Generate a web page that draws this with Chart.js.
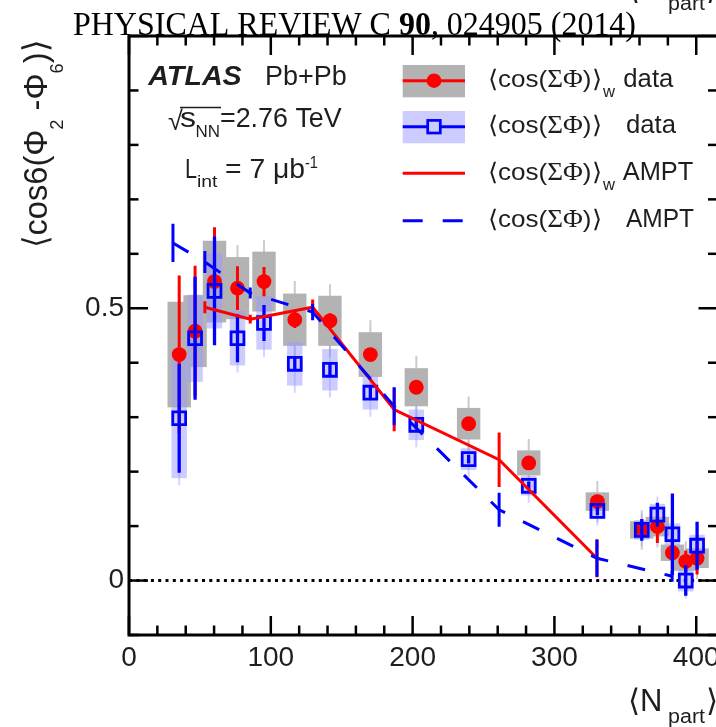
<!DOCTYPE html>
<html><head><meta charset="utf-8">
<script src="https://cdn.jsdelivr.net/npm/chart.js@4.4.0/dist/chart.umd.min.js"></script>
<style>
html,body{margin:0;padding:0;background:#fff;overflow:hidden;width:716px;height:727px;}
#wrap{position:absolute;left:0;top:0;width:760px;height:727px;}
canvas{display:block;}
</style></head><body>
<div id="wrap"><canvas id="c" width="760" height="727" style="width:760px;height:727px"></canvas></div>
<script>
// ---------------- data ----------------
const nPart = [35.4, 46.6, 60.3, 76.5, 95.2, 116.9, 141.7, 170.2, 202.6, 239.5, 281.9, 330.3, 361.6, 372.6, 383.2, 392.6, 400.6];
// <cos(ΣΦ)>_w data
const wData  = [0.415, 0.458, 0.549, 0.537, 0.549, 0.479, 0.477, 0.415, 0.355, 0.288, 0.216, 0.145, 0.093, 0.099, 0.051, 0.035, 0.041];
const wStat  = [0.145, 0.120, 0.100, 0.040, 0.027, 0.015, 0.014, 0.010, 0.008, 0.008, 0.008, 0.008, 0.015, 0.030, 0.030, 0.020, 0.030];
const wSys   = [0.097, 0.066, 0.075, 0.057, 0.055, 0.048, 0.046, 0.041, 0.035, 0.029, 0.023, 0.017, 0.016, 0.018, 0.015, 0.017, 0.018];
const wOuter = [0.120, 0.088, 0.097, 0.079, 0.076, 0.071, 0.067, 0.063, 0.058, 0.050, 0.044, 0.038, 0.036, 0.038, 0.036, 0.037, 0.038];
// <cos(ΣΦ)> data
const uData  = [0.298, 0.445, 0.532, 0.445, 0.473, 0.398, 0.387, 0.345, 0.286, 0.223, 0.174, 0.128, 0.093, 0.121, 0.085, 0.000, 0.064];
const uStat  = [0.100, 0.113, 0.100, 0.044, 0.033, 0.012, 0.012, 0.010, 0.008, 0.008, 0.008, 0.008, 0.020, 0.022, 0.075, 0.028, 0.044];
const uSys   = [0.110, 0.080, 0.069, 0.050, 0.049, 0.040, 0.038, 0.031, 0.028, 0.020, 0.018, 0.014, 0.018, 0.020, 0.020, 0.020, 0.020];
const uOuter = [0.123, 0.093, 0.082, 0.063, 0.062, 0.053, 0.051, 0.044, 0.041, 0.033, 0.031, 0.027, 0.030, 0.033, 0.033, 0.033, 0.033];
// AMPT
const amptWX   = [53.5, 85.5, 129.5, 187, 261, 330];
const amptW    = [0.502, 0.480, 0.502, 0.314, 0.222, 0.041];
const amptWErr = [0.011, 0.008, 0.014, 0.040, 0.050, 0.035];
const amptX    = [31, 53.5, 85.5, 129.5, 187, 261, 330, 383];
const ampt     = [0.620, 0.585, 0.528, 0.493, 0.320, 0.130, 0.041, 0.008];
const amptErr  = [0.035, 0.020, 0.010, 0.015, 0.035, 0.031, 0.034, 0.010];
// axes
const xRange = [0, 415];
const yRange = [-0.1, 1.0];
const xTickLabels = [0, 100, 200, 300, 400];
const yTickLabels = [0, 0.5];

// ---------------- style ----------------
const RED = '#ff0000', BLUE = '#0000ff', INK = '#1e1e1e';
const GRAY = '#b3b3b3', GRAY_W = '#cbcbcb';
const LBLUE = 'rgba(153,153,255,0.5)', LBLUE_W = 'rgba(160,160,255,0.45)';
const SANS = 'Liberation Sans, Arial, Helvetica, sans-serif';
const SERIF = 'Liberation Serif, Times New Roman, serif';

function rich(ctx, x, y, parts, fitW) {
  let w = 0;
  parts.forEach(p => { ctx.font = p.f; p.w = ctx.measureText(p.t).width; w += p.w; });
  const s = fitW ? fitW / w : 1;
  ctx.save(); ctx.translate(x, y); ctx.scale(s, 1);
  let cx = 0;
  parts.forEach(p => { ctx.font = p.f; ctx.fillText(p.t, cx, p.dy || 0); cx += p.w; });
  ctx.restore();
}
function vline(ctx, px, y1, y2) { ctx.beginPath(); ctx.moveTo(px, y1); ctx.lineTo(px, y2); ctx.stroke(); }

const decor = {
  id: 'decor',
  beforeDatasetsDraw(chart) {
    const {ctx, chartArea: a, scales: {x, y}} = chart;
    ctx.save();
    ctx.beginPath(); ctx.rect(a.left, a.top, a.right - a.left, a.bottom - a.top); ctx.clip();
    ctx.lineWidth = 2;
    ctx.strokeStyle = GRAY_W;
    nPart.forEach((n, i) => vline(ctx, x.getPixelForValue(n), y.getPixelForValue(wData[i] + wOuter[i]), y.getPixelForValue(wData[i] - wOuter[i])));
    ctx.strokeStyle = LBLUE_W;
    nPart.forEach((n, i) => vline(ctx, x.getPixelForValue(n), y.getPixelForValue(uData[i] + uOuter[i]), y.getPixelForValue(uData[i] - uOuter[i])));
    ctx.fillStyle = GRAY;
    nPart.forEach((n, i) => {
      const px = x.getPixelForValue(n), t = y.getPixelForValue(wData[i] + wSys[i]), b = y.getPixelForValue(wData[i] - wSys[i]);
      ctx.fillRect(px - 11.7, t, 23.4, b - t);
    });
    ctx.fillStyle = LBLUE;
    nPart.forEach((n, i) => {
      const px = x.getPixelForValue(n), t = y.getPixelForValue(uData[i] + uSys[i]), b = y.getPixelForValue(uData[i] - uSys[i]);
      ctx.fillRect(px - 7.7, t, 15.4, b - t);
    });
    ctx.strokeStyle = RED; ctx.lineWidth = 3;
    nPart.forEach((n, i) => vline(ctx, x.getPixelForValue(n), y.getPixelForValue(wData[i] + wStat[i]), y.getPixelForValue(wData[i] - wStat[i])));
    ctx.restore();
  },
  beforeDatasetDraw(chart, args) {
    if (args.index !== 1) return;
    const {ctx, chartArea: a, scales: {x, y}} = chart;
    ctx.save();
    ctx.beginPath(); ctx.rect(a.left, a.top, a.right - a.left, a.bottom - a.top); ctx.clip();
    ctx.strokeStyle = BLUE; ctx.lineWidth = 3.3;
    nPart.forEach((n, i) => vline(ctx, x.getPixelForValue(n), y.getPixelForValue(uData[i] + uStat[i]), y.getPixelForValue(uData[i] - uStat[i])));
    ctx.restore();
  },
  afterDatasetsDraw(chart) {
    const {ctx, chartArea: a, scales: {x, y}} = chart;
    ctx.save();
    ctx.beginPath(); ctx.rect(a.left, a.top, a.right - a.left, a.bottom - a.top); ctx.clip();
    ctx.lineWidth = 3;
    ctx.strokeStyle = RED;
    amptWX.forEach((n, i) => vline(ctx, x.getPixelForValue(n), y.getPixelForValue(amptW[i] + amptWErr[i]), y.getPixelForValue(amptW[i] - amptWErr[i])));
    ctx.strokeStyle = BLUE;
    amptX.forEach((n, i) => vline(ctx, x.getPixelForValue(n), y.getPixelForValue(ampt[i] + amptErr[i]), y.getPixelForValue(ampt[i] - amptErr[i])));
    ctx.restore();
  },
  afterDraw(chart) {
    const {ctx, chartArea: a, scales: {x, y}} = chart;
    ctx.save();
    ctx.strokeStyle = '#000'; ctx.lineWidth = 3;
    ctx.strokeRect(a.left, a.top, a.right - a.left, a.bottom - a.top);
    ctx.lineWidth = 2.5;
    for (let v = xRange[0]; v <= xRange[1] + 1e-9; v += 20) {
      const px = x.getPixelForValue(v), L = (Math.round(v) % 100 === 0) ? 19 : 9.5;
      vline(ctx, px, a.bottom, a.bottom - L);
      vline(ctx, px, a.top, a.top + L);
    }
    for (let k = -1; k <= 10; k++) {
      const v = k / 10, py = y.getPixelForValue(v), L = (k % 5 === 0) ? 19 : 9.5;
      ctx.beginPath(); ctx.moveTo(a.left, py); ctx.lineTo(a.left + L, py); ctx.stroke();
      ctx.beginPath(); ctx.moveTo(a.right, py); ctx.lineTo(a.right - L, py); ctx.stroke();
    }
    ctx.fillStyle = INK; ctx.textBaseline = 'alphabetic'; ctx.textAlign = 'left';
    rich(ctx, 148.3, 85, [{t: 'ATLAS', f: 'italic bold 27px ' + SANS}], 93.4);
    rich(ctx, 265, 85, [{t: 'Pb+Pb', f: '27px ' + SANS}], 81.7);
    rich(ctx, 168, 130, [{t: '\u221A', f: '27px ' + SANS}]);
    ctx.strokeStyle = INK; ctx.lineWidth = 1.6;
    ctx.beginPath(); ctx.moveTo(180, 107.5); ctx.lineTo(221, 107.5); ctx.stroke();
    rich(ctx, 180, 127.3, [{t: 's', f: '27px ' + SANS}], 16);
    rich(ctx, 195.5, 137.3, [{t: 'NN', f: '17px ' + SANS}], 24.5);
    rich(ctx, 220, 127.3, [{t: '=2.76 TeV', f: '27px ' + SANS}], 121.7);
    rich(ctx, 185, 178.3, [{t: 'L', f: '27px ' + SANS}], 12);
    rich(ctx, 197, 186.7, [{t: 'int', f: '17px ' + SANS}], 20.5);
    rich(ctx, 225, 178.3, [{t: '= 7 \u03BCb', f: '27px ' + SANS}], 80);
    rich(ctx, 305, 168.3, [{t: '-1', f: '16px ' + SANS}], 13);

    ctx.fillStyle = GRAY; ctx.fillRect(402.7, 65, 62.3, 32.3);
    ctx.fillStyle = LBLUE; ctx.fillRect(402.7, 111, 62.3, 32.3);
    ctx.lineWidth = 3; ctx.strokeStyle = RED;
    ctx.beginPath(); ctx.moveTo(402.7, 80.7); ctx.lineTo(465, 80.7); ctx.stroke();
    ctx.beginPath(); ctx.moveTo(402.7, 173.3); ctx.lineTo(465, 173.3); ctx.stroke();
    ctx.fillStyle = RED; ctx.beginPath(); ctx.arc(434, 80.7, 7.3, 0, Math.PI * 2); ctx.fill();
    ctx.strokeStyle = BLUE;
    ctx.beginPath(); ctx.moveTo(402.7, 126.7); ctx.lineTo(465, 126.7); ctx.stroke();
    ctx.lineWidth = 2.7; ctx.fillStyle = 'rgba(204,204,255,1)';
    ctx.fillRect(427.7, 120.4, 12.6, 12.6); ctx.strokeRect(427.7, 120.4, 12.6, 12.6);
    ctx.lineWidth = 3;
    ctx.beginPath(); ctx.moveTo(402.7, 220.7); ctx.lineTo(422.7, 220.7); ctx.moveTo(442.7, 220.7); ctx.lineTo(462.7, 220.7); ctx.stroke();
    ctx.fillStyle = INK;
    const cosParts = () => [{t: '\u27E8cos(', f: '24px ' + SANS}, {t: '\u03A3\u03A6', f: '25px ' + SERIF}, {t: ')\u27E9', f: '24px ' + SANS}];
    const ly = [87, 133, 180, 227];
    ly.forEach(b => rich(ctx, 488.3, b, cosParts(), 113));
    rich(ctx, 603, 97, [{t: 'w', f: '16px ' + SANS}], 12);
    rich(ctx, 603, 190, [{t: 'w', f: '16px ' + SANS}], 12);
    rich(ctx, 623.3, 87, [{t: 'data', f: '25px ' + SANS}], 50);
    rich(ctx, 626, 133, [{t: 'data', f: '25px ' + SANS}], 50);
    rich(ctx, 622.7, 180, [{t: 'AMPT', f: '25px ' + SANS}], 70.6);
    rich(ctx, 626, 227, [{t: 'AMPT', f: '25px ' + SANS}], 68);

    ctx.save();
    ctx.translate(47, 248); ctx.rotate(-Math.PI / 2);
    rich(ctx, 0, 0, [
      {t: '\u27E8cos6(\u03A6', f: '34px ' + SANS},
      {t: '2', f: '19px ' + SANS, dy: 16},
      {t: ' -\u03A6', f: '34px ' + SANS},
      {t: '6', f: '19px ' + SANS, dy: 16},
      {t: ')\u27E9', f: '34px ' + SANS}], 208);
    ctx.restore();
    rich(ctx, 628, 711, [{t: '\u27E8N', f: '31px ' + SANS}]);
    rich(ctx, 668, 723, [{t: 'part', f: '20px ' + SANS}], 37);
    rich(ctx, 706, 711, [{t: '\u27E9', f: '31px ' + SANS}]);
    rich(ctx, 628, -1, [{t: '\u27E8N', f: '31px ' + SANS}]);
    rich(ctx, 668, 10, [{t: 'part', f: '20px ' + SANS}], 37);
    rich(ctx, 706, -1, [{t: '\u27E9', f: '31px ' + SANS}]);
    ctx.fillStyle = '#000';
    rich(ctx, 73, 35, [
      {t: 'PHYSICAL REVIEW C ', f: '33px ' + SERIF},
      {t: '90', f: 'bold 33px ' + SERIF},
      {t: ', 024905 (2014)', f: '33px ' + SERIF}], 563);
    ctx.restore();
  }
};

new Chart(document.getElementById('c'), {
  type: 'scatter',
  data: {
    datasets: [
      {label: 'w data', data: nPart.map((n, i) => ({x: n, y: wData[i]})), pointStyle: 'circle', pointRadius: 7.4,
       backgroundColor: RED, borderColor: RED, borderWidth: 0, order: 4},
      {label: 'data', data: nPart.map((n, i) => ({x: n, y: uData[i]})), pointStyle: 'rect', pointRadius: 9.1,
       backgroundColor: 'rgba(0,0,0,0)', borderColor: BLUE, borderWidth: 2.8, order: 3},
      {label: 'w AMPT', data: amptWX.map((n, i) => ({x: n, y: amptW[i]})), showLine: true, pointRadius: 0,
       borderColor: RED, borderWidth: 3, tension: 0, order: 2},
      {label: 'AMPT', data: amptX.map((n, i) => ({x: n, y: ampt[i]})), showLine: true, pointRadius: 0,
       borderColor: BLUE, borderWidth: 3, borderDash: [18, 20], tension: 0, order: 1},
      {label: 'zero', data: [{x: xRange[0], y: 0}, {x: xRange[1], y: 0}], showLine: true, pointRadius: 0,
       borderColor: '#000', borderWidth: 3, borderDash: [3, 4.3], order: 5}
    ]
  },
  options: {
    responsive: false, animation: false, devicePixelRatio: 1,
    layout: {padding: {top: 36, right: 42.5, left: 0, bottom: 0}},
    plugins: {legend: {display: false}, tooltip: {enabled: false}},
    elements: {line: {borderCapStyle: 'butt'}},
    scales: {
      x: {type: 'linear', min: xRange[0], max: xRange[1],
          afterFit(s) { s.height = 92; },
          afterBuildTicks(s) { s.ticks = xTickLabels.map(v => ({value: v})); },
          grid: {display: false, drawTicks: false}, border: {display: false},
          ticks: {font: {family: SANS, size: 28}, color: INK, padding: 6, maxRotation: 0, autoSkip: false, callback: v => String(v)}},
      y: {type: 'linear', min: yRange[0], max: yRange[1],
          afterFit(s) { s.width = 129; },
          afterBuildTicks(s) { s.ticks = yTickLabels.map(v => ({value: v})); },
          grid: {display: false, drawTicks: false}, border: {display: false},
          ticks: {font: {family: SANS, size: 28}, color: INK, padding: 5, autoSkip: false, callback: v => String(v)}}
    }
  },
  plugins: [decor]
});
</script>
</body></html>
